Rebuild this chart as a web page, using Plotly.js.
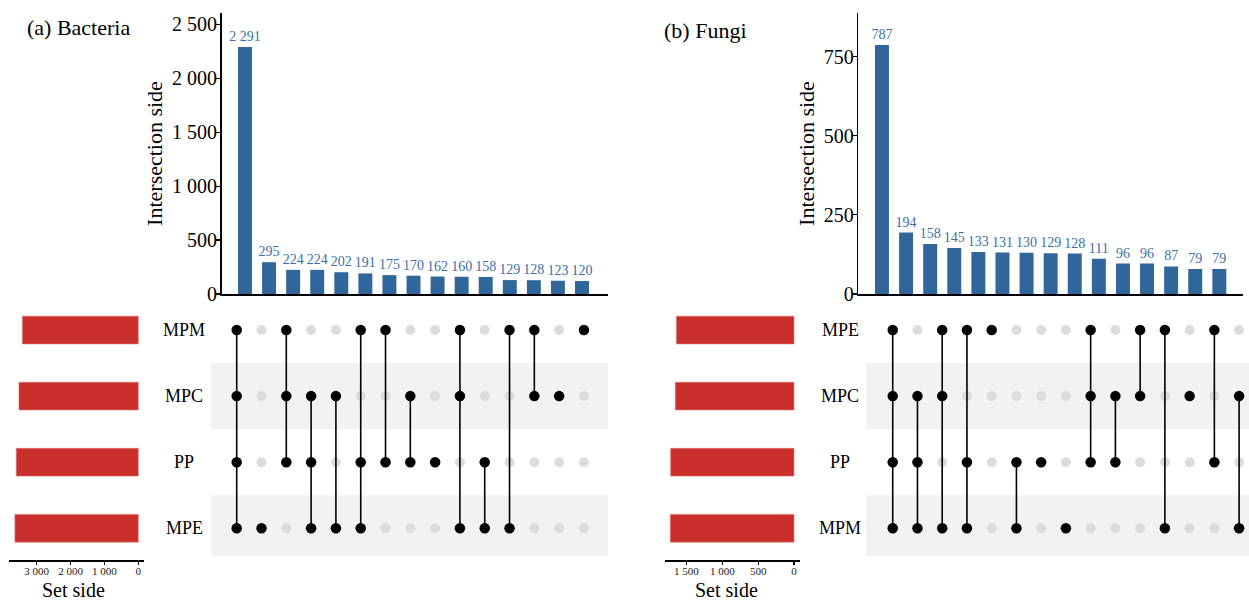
<!DOCTYPE html>
<html>
<head>
<meta charset="utf-8">
<script src="https://cdn.plot.ly/plotly-3.0.1.min.js"></script>
<style>html,body{margin:0;padding:0;background:#fff;}#chart{width:1249px;height:600px;}</style>
</head>
<body>
<div id="chart"></div>
<script>
// ---------- DATA ----------
// (a) Bacteria : matrix rows bottom -> top
const bacteriaSets = ['MPE', 'PP', 'MPC', 'MPM'];
const bacteriaSetSize = [3640, 3600, 3520, 3420];
const bacteriaCounts = [2291, 295, 224, 224, 202, 191, 175, 170, 162, 160, 158, 129, 128, 123, 120];
const bacteriaCombos = [
  ['MPM', 'MPC', 'PP', 'MPE'],
  ['MPE'],
  ['MPM', 'MPC', 'PP'],
  ['MPC', 'PP', 'MPE'],
  ['MPC', 'MPE'],
  ['MPM', 'PP', 'MPE'],
  ['MPM', 'PP'],
  ['MPC', 'PP'],
  ['PP'],
  ['MPM', 'MPC', 'MPE'],
  ['PP', 'MPE'],
  ['MPM', 'MPE'],
  ['MPM', 'MPC'],
  ['MPC'],
  ['MPM']
];
const bacteriaTicks = [0, 500, 1000, 1500, 2000, 2500];
const bacteriaSizeTicks = [0, 1000, 2000, 3000];

// (b) Fungi : matrix rows bottom -> top
const fungiSets = ['MPM', 'PP', 'MPC', 'MPE'];
const fungiSetSize = [1725, 1720, 1655, 1640];
const fungiCounts = [787, 194, 158, 145, 133, 131, 130, 129, 128, 111, 96, 96, 87, 79, 79];
const fungiCombos = [
  ['MPE', 'MPC', 'PP', 'MPM'],
  ['MPC', 'PP', 'MPM'],
  ['MPE', 'MPC', 'MPM'],
  ['MPE', 'PP', 'MPM'],
  ['MPE'],
  ['PP', 'MPM'],
  ['PP'],
  ['MPM'],
  ['MPE', 'MPC', 'PP'],
  ['MPC', 'PP'],
  ['MPE', 'MPC'],
  ['MPE', 'MPM'],
  ['MPC'],
  ['MPE', 'PP'],
  ['MPC', 'MPM']
];
const fungiTicks = [0, 250, 500, 750];
const fungiSizeTicks = [0, 500, 1000, 1500];

const panelTitles = ['(a) Bacteria', '(b) Fungi'];
const yTitle = 'Intersection side';
const xTitle = 'Set side';

// ---------- STYLE ----------
const W = 1249, H = 600;
const FONT = 'Liberation Serif, Times New Roman, serif';
const BAR_COLOR = '#31669a';
const LABEL_COLOR = '#3b6fa6';
const SET_COLOR = '#c9302c';
const GRAY_DOT = '#dcdcdc';
const BAND = '#f2f2f2';
const px = v => v / W;
const py = v => 1 - v / H;

const traces = [];
const layout = {
  width: W, height: H, autosize: false,
  margin: {l: 0, r: 0, t: 0, b: 0, pad: 0},
  paper_bgcolor: '#fff', plot_bgcolor: 'rgba(0,0,0,0)',
  showlegend: false,
  separators: '. ',
  font: {family: FONT, color: '#000'},
  shapes: [], annotations: []
};

function panel(k, sets, setSize, counts, combos, ticks, sizeTicks, g) {
  const n = 3 * k;
  const xa = 'x' + (n === 0 ? '' : n + 1), ya = 'y' + (n === 0 ? '' : n + 1);
  const xb = 'x' + (n + 2), yb = 'y' + (n + 2);
  const xc = 'x' + (n + 3), yc = 'y' + (n + 3);
  const idx = counts.map((_, i) => i);

  // intersection bars
  traces.push({
    type: 'bar', x: idx, y: counts, xaxis: xa, yaxis: ya,
    marker: {color: BAR_COLOR, line: {width: 0}}, width: 0.58,
    texttemplate: '%{y:,}', textposition: 'outside', cliponaxis: false, constraintext: 'none',
    textfont: {family: FONT, size: 14, color: LABEL_COLOR}, hoverinfo: 'x+y'
  });

  // matrix dots
  const gx = [], gy = [], bx = [], by = [], lx = [], ly = [];
  combos.forEach((c, i) => {
    const rows = [];
    sets.forEach((s, r) => {
      if (c.includes(s)) { bx.push(i); by.push(r); rows.push(r); }
      else { gx.push(i); gy.push(r); }
    });
    if (rows.length > 1) {
      lx.push(i, i, null);
      ly.push(Math.min(...rows), Math.max(...rows), null);
    }
  });
  traces.push({type: 'scatter', mode: 'markers', x: gx, y: gy, xaxis: xb, yaxis: yb,
    marker: {color: GRAY_DOT, size: 10}, hoverinfo: 'skip', cliponaxis: false});
  traces.push({type: 'scatter', mode: 'lines', x: lx, y: ly, xaxis: xb, yaxis: yb,
    line: {color: '#000', width: 1.6}, hoverinfo: 'skip', connectgaps: false});
  traces.push({type: 'scatter', mode: 'markers', x: bx, y: by, xaxis: xb, yaxis: yb,
    marker: {color: '#000', size: 10.5}, hoverinfo: 'skip', cliponaxis: false});

  // set size bars
  traces.push({type: 'bar', orientation: 'h', x: setSize, y: sets.map((_, r) => r),
    xaxis: xc, yaxis: yc, width: 0.42,
    marker: {color: SET_COLOR, line: {color: '#e07070', width: 0.6}}, hoverinfo: 'x'});

  const n1 = n === 0 ? '' : String(n + 1);
  const hide = {showgrid: false, zeroline: false, showticklabels: false, showline: false, ticks: ''};
  layout['xaxis' + n1] = {domain: [px(g.barL), px(g.barR)], range: g.barXR, anchor: ya,
    showgrid: false, zeroline: false, showticklabels: false, showline: true,
    linecolor: '#000', linewidth: 1.6, ticks: '', fixedrange: true};
  layout['yaxis' + n1] = {domain: [py(g.barB), py(g.barT)], range: g.barYR, anchor: xa,
    showgrid: false, zeroline: false, showline: true, linecolor: '#000', linewidth: 1.6,
    ticks: 'outside', ticklen: 4, tickwidth: 1.2, tickcolor: '#000', ticklabelstandoff: -5,
    tickvals: ticks, separatethousands: true, tickformat: ',d',
    tickfont: {family: FONT, size: 20, color: '#000'},
    title: {text: yTitle, font: {family: FONT, size: 22, color: '#000'}, standoff: g.standoff}};
  layout['xaxis' + (n + 2)] = Object.assign({domain: [px(g.mL), px(g.mR)], range: g.mXR, anchor: yb}, hide);
  layout['yaxis' + (n + 2)] = Object.assign({domain: [py(556), py(297)], range: [-0.42, 3.5], anchor: xb}, hide);
  layout['xaxis' + (n + 3)] = {domain: [px(g.sL), px(g.sR)], range: g.sXR, anchor: 'free', position: py(560.7),
    showgrid: false, zeroline: false, showline: true, linecolor: '#000', linewidth: 2,
    ticks: 'outside', ticklen: 3, tickwidth: 1.2, tickcolor: '#000', ticklabelstandoff: -3,
    tickvals: sizeTicks, separatethousands: true, tickformat: ',d',
    tickfont: {family: FONT, size: 11, color: '#222'}};
  layout['yaxis' + (n + 3)] = Object.assign({domain: [py(556), py(297)], range: [-0.42, 3.5], anchor: xc}, hide);

  // set size axis title
  layout.annotations.push({xref: 'paper', yref: 'paper', x: px(g.sTX), y: py(590), text: xTitle,
    showarrow: false, xanchor: 'center', yanchor: 'middle', font: {family: FONT, size: 20, color: '#000'}});

  // row bands (sets at index 0 and 2)
  [0, 2].forEach(r => {
    layout.shapes.push({type: 'rect', xref: xb + ' domain', yref: yb, x0: 0, x1: 1,
      y0: Math.max(r - 0.5, -0.42), y1: r + 0.5, fillcolor: BAND, line: {width: 0}, layer: 'below'});
  });
  // row labels
  sets.forEach((s, r) => {
    layout.annotations.push({xref: 'paper', yref: yb, x: px(g.labX), y: r, text: s,
      showarrow: false, xanchor: 'center', yanchor: 'middle',
      font: {family: FONT, size: 18, color: '#000'}});
  });
  // panel title
  layout.annotations.push({xref: 'paper', yref: 'paper', x: px(g.tX), y: py(g.tY), text: panelTitles[k],
    showarrow: false, xanchor: 'left', yanchor: 'middle', font: {family: FONT, size: 22, color: '#000'}});
}

panel(0, bacteriaSets, bacteriaSetSize, bacteriaCounts, bacteriaCombos, bacteriaTicks, bacteriaSizeTicks, {
  barL: 221.7, barR: 608, barT: 13, barB: 294, barXR: [-0.968, 15.08], barYR: [0, 2606], standoff: 3,
  mL: 211, mR: 608, mXR: [-1.036, 14.97],
  sL: 9, sR: 144, sXR: [3814, -168], sTX: 73, labX: 184, tX: 25, tY: 27
});
panel(1, fungiSets, fungiSetSize, fungiCounts, fungiCombos, fungiTicks, fungiSizeTicks, {
  barL: 858.3, barR: 1242.7, barT: 13, barB: 294, barXR: [-0.983, 14.97], barYR: [0, 888], standoff: 3,
  mL: 866, mR: 1249, mXR: [-1.08, 14.40],
  sL: 665, sR: 800, sXR: [1799, -84], sTX: 726, labX: 840, tX: 662, tY: 31
});

Plotly.newPlot('chart', traces, layout, {staticPlot: true, displayModeBar: false});
</script>
</body>
</html>
